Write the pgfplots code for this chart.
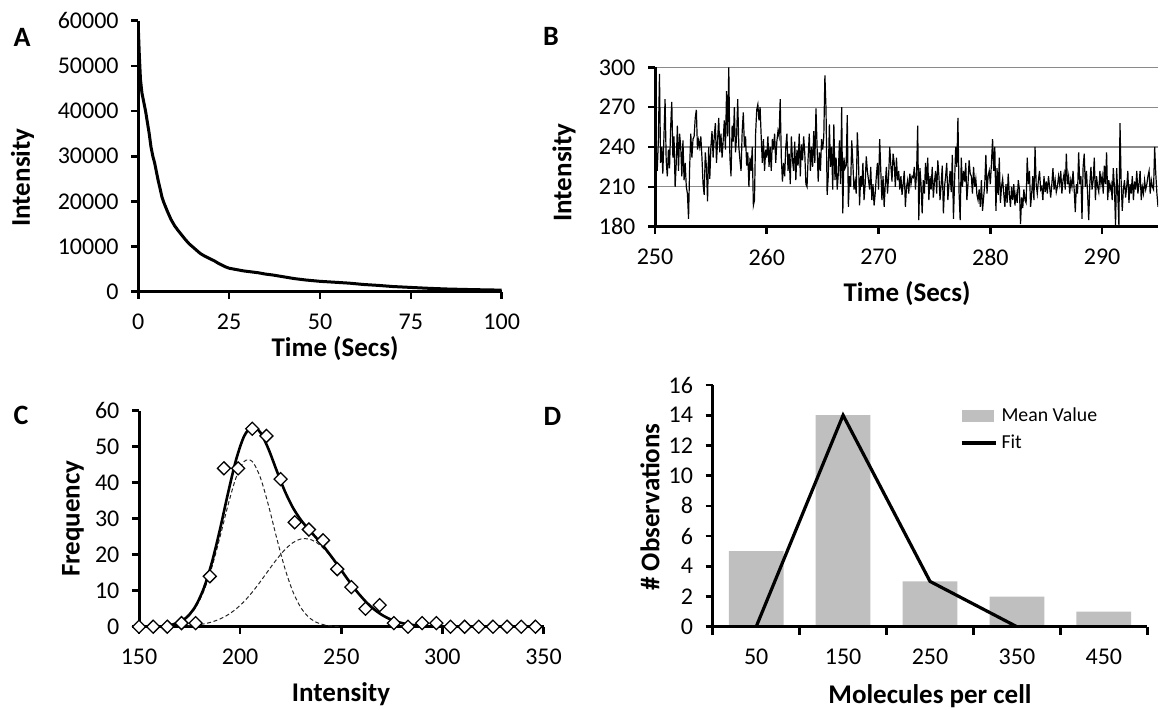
\documentclass[border=0pt]{standalone}
\usepackage{pgfplots}
\pgfplotsset{compat=1.18}
\usepackage{fontspec}
\setmainfont{Carlito}
\definecolor{bargray}{HTML}{BFBFBF}
\definecolor{gridgray}{HTML}{8A8A8A}
\newcommand{\tickfont}{\fontsize{12}{14}\selectfont}
\newcommand{\labfont}{\fontsize{13.5}{15}\selectfont\bfseries}
\newcommand{\letfont}{\fontsize{14}{16}\selectfont\bfseries}
\pgfplotsset{
  myaxis/.style={
    scale only axis,
    axis x line*=bottom, axis y line*=left,
    axis line style={line width=1.5pt, black},
    tick align=outside,
    major tick length=3.5pt,
    tick style={black, line width=1.3pt},
    tick label style={font=\tickfont},
    xticklabel style={font=\tickfont, yshift=-4.2pt},
    yticklabel style={font=\tickfont, xshift=-2.8pt},
    /pgf/number format/assume math mode=true,
    /pgf/number format/1000 sep={},
    scaled ticks=false,
    anchor=south west,
  }
}
\begin{document}
\begin{tikzpicture}
\path[use as bounding box] (0pt,0pt) rectangle (585.5pt,-354.5pt);
% ---------------- A
\begin{axis}[myaxis, at={(69.15pt,-145.85pt)}, width=181.7pt, height=135.5pt,
  xmin=0, xmax=100, ymin=0, ymax=60000,
  xtick={0,25,50,75,100}, ytick={0,10000,20000,30000,40000,50000,60000}]
\addplot[line width=1.5pt, black] coordinates {
(0,58500)(0.3,52000)(0.6,47000)(1,44000)(1.5,42000)(2,40000)(2.5,37500)(3,35000)
(3.5,32000)(4,30000)(4.5,28500)(5,26500)(5.5,24500)(6,22800)(6.5,21000)(7,19800)
(8,17800)(9,16000)(10,14600)(11,13500)(12,12500)(13,11500)(14,10600)(15,9900)
(16,9200)(17,8500)(18,8000)(19,7600)(20,7200)(21,6800)(22,6300)(23,5900)(24,5500)
(25,5200)(27,4900)(29,4600)(31,4400)(33,4200)(35,3900)(37,3700)(40,3300)(43,2900)
(46,2600)(50,2300)(54,2100)(58,1900)(62,1600)(66,1400)(70,1150)(75,950)(80,750)
(85,600)(90,500)(95,420)(100,350)};
\end{axis}
\node[font=\letfont] at (11pt,-18.5pt) {A};
\node[font=\labfont, rotate=90] at (11.25pt,-88.75pt) {Intensity};
\node[font=\labfont] at (167.5pt,-174.15pt) {Time (Secs)};
% ---------------- B
\begin{axis}[myaxis, at={(327.5pt,-113.35pt)}, width=251.5pt, height=79.7pt,
  xmin=250, xmax=295, ymin=180, ymax=300,
  xtick={250,260,270,280,290}, ytick={180,210,240,270,300},
  ymajorgrids, grid style={gridgray, line width=0.6pt}]
\addplot[line width=0.6pt, black] coordinates {
(250.0,300)(250.1,240)(250.2,222)(250.3,245)(250.4,295)(250.5,228)(250.6,240)(250.7,220)(250.8,248)(250.9,276)
(251.0,230)(251.1,218)(251.2,238)(251.3,224)(251.4,255)(251.5,274)(251.6,232)(251.7,248)(251.8,210)(251.9,228)
(252.0,256)(252.1,222)(252.2,250)(252.3,240)(252.4,218)(252.5,245)(252.6,215)(252.7,228)(252.8,210)(252.9,205)
(253.0,186)(253.1,225)(253.2,250)(253.3,232)(253.4,246)(253.5,248)(253.6,262)(253.7,268)(253.8,238)(253.9,245)
(254.0,240)(254.1,248)(254.2,232)(254.3,212)(254.4,204)(254.5,236)(254.6,225)(254.7,199)(254.8,240)(254.9,216)
(255.0,240)(255.1,252)(255.2,232)(255.3,248)(255.4,258)(255.5,228)(255.6,245)(255.7,262)(255.8,236)(255.9,250)
(256.0,232)(256.1,245)(256.2,260)(256.3,238)(256.4,282)(256.5,248)(256.6,300)(256.7,232)(256.8,218)(256.9,256)
(257.0,244)(257.1,270)(257.2,236)(257.3,248)(257.4,276)(257.5,240)(257.6,230)(257.7,222)(257.8,252)(257.9,266)
(258.0,240)(258.1,248)(258.2,226)(258.3,236)(258.4,210)(258.5,232)(258.6,222)(258.7,240)(258.8,196)(258.9,200)
(259.0,250)(259.1,268)(259.2,272)(259.3,260)(259.4,270)(259.5,248)(259.6,228)(259.7,246)(259.8,222)(259.9,238)
(260.0,232)(260.1,248)(260.2,225)(260.3,240)(260.4,222)(260.5,246)(260.6,238)(260.7,250)(260.8,228)(260.9,244)
(261.0,252)(261.1,248)(261.2,276)(261.3,232)(261.4,214)(261.5,228)(261.6,218)(261.7,240)(261.8,250)(261.9,222)
(262.0,235)(262.1,212)(262.2,248)(262.3,230)(262.4,222)(262.5,244)(262.6,215)(262.7,238)(262.8,226)(262.9,250)
(263.0,218)(263.1,242)(263.2,230)(263.3,248)(263.4,235)(263.5,212)(263.6,210)(263.7,232)(263.8,250)(263.9,222)
(264.0,240)(264.1,225)(264.2,252)(264.3,228)(264.4,269)(264.5,240)(264.6,214)(264.7,236)(264.8,222)(264.9,246)
(265.0,238)(265.1,248)(265.2,294)(265.3,268)(265.4,204)(265.5,218)(265.6,257)(265.7,225)(265.8,240)(265.9,208)
(266.0,257)(266.1,215)(266.2,232)(266.3,208)(266.4,220)(266.5,245)(266.6,212)(266.7,270)(266.8,190)(266.9,232)
(267.0,224)(267.1,226)(267.2,264)(267.3,195)(267.4,218)(267.5,210)(267.6,245)(267.7,228)(267.8,208)(267.9,214)
(268.0,205)(268.1,251)(268.2,232)(268.3,196)(268.4,218)(268.5,210)(268.6,228)(268.7,200)(268.8,212)(268.9,233)
(269.0,222)(269.1,215)(269.2,208)(269.3,225)(269.4,200)(269.5,212)(269.6,196)(269.7,205)(269.8,218)(269.9,228)
(270.0,208)(270.1,246)(270.2,222)(270.3,200)(270.4,218)(270.5,195)(270.6,212)(270.7,225)(270.8,205)(270.9,218)
(271.0,240)(271.1,226)(271.2,214)(271.3,235)(271.4,228)(271.5,210)(271.6,232)(271.7,215)(271.8,222)(271.9,208)
(272.0,218)(272.1,204)(272.2,212)(272.3,222)(272.4,195)(272.5,210)(272.6,215)(272.7,205)(272.8,220)(272.9,212)
(273.0,218)(273.1,217)(273.2,225)(273.3,208)(273.4,220)(273.5,256)(273.6,185)(273.7,224)(273.8,212)(273.9,190)
(274.0,215)(274.1,205)(274.2,228)(274.3,212)(274.4,232)(274.5,200)(274.6,218)(274.7,208)(274.8,225)(274.9,202)
(275.0,214)(275.1,222)(275.2,205)(275.3,230)(275.4,218)(275.5,200)(275.6,212)(275.7,226)(275.8,190)(275.9,210)
(276.0,218)(276.1,228)(276.2,200)(276.3,212)(276.4,222)(276.5,206)(276.6,234)(276.7,186)(276.8,214)(276.9,240)
(277.0,225)(277.1,262)(277.2,206)(277.3,185)(277.4,232)(277.5,210)(277.6,222)(277.7,214)(277.8,228)(277.9,200)
(278.0,212)(278.1,230)(278.2,220)(278.3,218)(278.4,205)(278.5,225)(278.6,210)(278.7,216)(278.8,204)(278.9,200)
(279.0,208)(279.1,195)(279.2,215)(279.3,192)(279.4,202)(279.5,212)(279.6,234)(279.7,205)(279.8,218)(279.9,222)
(280.0,212)(280.1,228)(280.2,246)(280.3,222)(280.4,240)(280.5,192)(280.6,224)(280.7,204)(280.8,232)(280.9,198)
(281.0,210)(281.1,216)(281.2,205)(281.3,195)(281.4,212)(281.5,198)(281.6,220)(281.7,204)(281.8,195)(281.9,210)
(282.0,200)(282.1,212)(282.2,196)(282.3,205)(282.4,198)(282.5,215)(282.6,208)(282.7,182)(282.8,202)(282.9,194)
(283.0,208)(283.1,200)(283.2,198)(283.3,232)(283.4,212)(283.5,222)(283.6,195)(283.7,205)(283.8,218)(283.9,200)
(284.0,240)(284.1,212)(284.2,205)(284.3,215)(284.4,222)(284.5,208)(284.6,210)(284.7,200)(284.8,218)(284.9,206)
(285.0,214)(285.1,205)(285.2,218)(285.3,210)(285.4,202)(285.5,212)(285.6,224)(285.7,208)(285.8,215)(285.9,206)
(286.0,210)(286.1,218)(286.2,212)(286.3,222)(286.4,205)(286.5,215)(286.6,220)(286.7,208)(286.8,235)(286.9,212)
(287.0,218)(287.1,205)(287.2,215)(287.3,210)(287.4,222)(287.5,208)(287.6,191)(287.7,212)(287.8,205)(287.9,236)
(288.0,212)(288.1,218)(288.2,186)(288.3,225)(288.4,235)(288.5,210)(288.6,222)(288.7,205)(288.8,185)(288.9,212)
(289.0,225)(289.1,208)(289.2,215)(289.3,232)(289.4,200)(289.5,218)(289.6,210)(289.7,206)(289.8,222)(289.9,212)
(290.0,218)(290.1,205)(290.2,226)(290.3,212)(290.4,236)(290.5,200)(290.6,215)(290.7,208)(290.8,212)(290.9,200)
(291.0,224)(291.1,210)(291.2,181)(291.3,224)(291.4,205)(291.5,181)(291.6,258)(291.7,215)(291.8,192)(291.9,208)
(292.0,215)(292.1,202)(292.2,210)(292.3,222)(292.4,198)(292.5,212)(292.6,205)(292.7,218)(292.8,200)(292.9,214)
(293.0,208)(293.1,222)(293.2,205)(293.3,212)(293.4,222)(293.5,200)(293.6,210)(293.7,205)(293.8,215)(293.9,208)
(294.0,212)(294.1,218)(294.2,222)(294.3,205)(294.4,215)(294.5,210)(294.6,208)(294.7,240)(294.8,220)(294.9,205)
(295.0,195)};
\end{axis}
\node[font=\letfont] at (275.5pt,-18pt) {B};
\node[font=\labfont, rotate=90] at (282pt,-86.25pt) {Intensity};
\node[font=\labfont] at (453.5pt,-147pt) {Time (Secs)};
% ---------------- C
\begin{axis}[myaxis, at={(69.5pt,-313.35pt)}, width=202.25pt, height=108pt,
  xmin=150, xmax=350, ymin=0, ymax=60, clip=false,
  xtick={150,200,250,300,350}, ytick={0,10,20,30,40,50,60}]
\addplot[line width=0.5pt, black!85, dash pattern=on 2pt off 1.3pt, smooth] coordinates {
(166,0.46)(170,1.15)(174,2.60)(178,5.33)(182,9.86)(186,16.47)(190,24.81)(194,33.75)(198,41.44)
(202,45.91)(206,45.91)(210,41.44)(214,33.75)(218,24.81)(222,16.47)(226,9.86)(230,5.33)(234,2.60)
(238,1.15)(242,0.46)(246,0.16)(250,0.05)};
\addplot[line width=0.5pt, black!85, dash pattern=on 2pt off 1.3pt, smooth] coordinates {
(174,0.23)(178,0.43)(182,0.77)(186,1.31)(190,2.13)(194,3.32)(198,4.94)(202,7.04)(206,9.60)(210,12.53)
(214,15.64)(218,18.67)(222,21.33)(226,23.31)(230,24.36)(234,24.36)(238,23.31)(242,21.33)(246,18.67)
(250,15.64)(254,12.53)(258,9.60)(262,7.04)(266,4.94)(270,3.32)(274,2.13)(278,1.31)(282,0.77)(286,0.43)(290,0.23)};
\addplot[line width=1.3pt, black, smooth] coordinates {
(164,0.3)(166,0.52)(170,1.27)(174,2.83)(178,5.76)(182,10.63)(186,17.78)(190,26.94)(194,37.07)(198,46.38)
(202,52.95)(206,55.51)(210,53.97)(214,49.39)(218,43.48)(222,37.80)(226,33.17)(230,29.69)(234,26.96)
(238,24.46)(242,21.79)(246,18.83)(250,15.69)(254,12.54)(258,9.60)(262,7.04)(266,4.94)(270,3.32)
(274,2.13)(278,1.31)(282,0.77)(286,0.43)(290,0.23)};
\addplot[only marks, mark=square*, mark size=2.3pt,
  mark options={rotate=45, fill=white, draw=black, line width=0.65pt}] coordinates {
(150,0)(157,0)(164,0)(171,1)(178,1)(185,14)(192,44)(199,44)(206,55)(213,53)(220,41)(227,29)
(234,27)(241,24)(248,16)(255,11)(262,5)(269,6)(276,1)(283,0)(290,1)(297,1)(304,0)(311,0)
(318,0)(325,0)(332,0)(339,0)(346,0)};
\end{axis}
\node[font=\letfont] at (10.5pt,-207.5pt) {C};
\node[font=\labfont, rotate=90] at (36.5pt,-259.35pt) {Frequency};
\node[font=\labfont] at (170.5pt,-347pt) {Intensity};
% ---------------- D
\begin{axis}[myaxis, at={(356.35pt,-313.35pt)}, width=217.3pt, height=120.85pt,
  xmin=-0.5, xmax=4.5, ymin=0, ymax=16, axis on top,
  xtick={0,1,2,3,4}, xticklabels={50,150,250,350,450},
  major x tick style={draw=none},
  minor xtick={-0.5,0.5,1.5,2.5,3.5,4.5}, minor tick length=4pt,
  minor x tick style={black, line width=1.3pt},
  ytick={0,2,4,6,8,10,12,14,16},
  legend style={at={(0.568,0.918)}, anchor=north west, draw=none, fill=none,
    font=\fontsize{9.9}{11}\selectfont, inner sep=0pt, row sep=2.8pt,
    nodes={inner sep=1.2pt}},
  legend cell align=left]
\addplot[ybar, bar width=27.35pt, fill=bargray, draw=none,
  legend image code/.code={\fill[bargray] (0pt,-2.85pt) rectangle (16pt,2.85pt);}]
  coordinates {(0,5)(1,14)(2,3)(3,2)(4,1)};
\addlegendentry{\hspace{1pt}Mean Value}
\addplot[line width=1.6pt, black, sharp plot,
  legend image code/.code={\draw[line width=1.6pt] (0pt,0pt) -- (17pt,0pt);}]
  coordinates {(0,0)(1,14)(2,3)(3,0)};
\addlegendentry{\hspace{1pt}Fit}
\end{axis}
\node[font=\letfont] at (276.25pt,-208pt) {D};
\node[font=\labfont, rotate=90] at (325pt,-253.5pt) {\# Observations};
\node[font=\labfont] at (465pt,-348pt) {Molecules per cell};
\end{tikzpicture}
\end{document}
